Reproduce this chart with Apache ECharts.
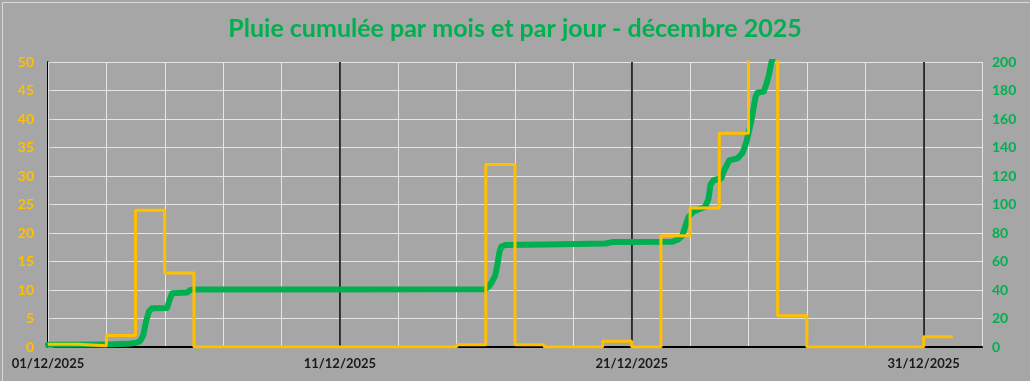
<!DOCTYPE html>
<html>
<head>
<meta charset="utf-8">
<script src="https://cdn.jsdelivr.net/npm/echarts@6/dist/echarts.min.js"></script>
<style>
html,body{margin:0;padding:0;background:#A6A6A6;}
#c{width:1030px;height:381px;}
</style>
</head>
<body>
<div id="c"></div>
<script>
// ---- Data ----
const titleText = 'Pluie cumulée par mois et par jour - décembre 2025';
// x in days since 01/12/2025 00:00
const xTickLabels = ['01/12/2025', '11/12/2025', '21/12/2025', '31/12/2025'];
// Daily rainfall (mm), 1..31 December, left axis
const dailyRain = [0.5, 0.2, 2, 24, 13, 0, 0, 0, 0, 0,
                   0, 0, 0, 0, 0.4, 32, 0.4, 0, 0, 1,
                   0, 19.5, 24.4, 37.5, 58, 5.5, 0, 0, 0, 0,
                   1.8];
// Cumulative rainfall (mm), right axis: time (days) / value
const cumDays = [0.00, 1.99, 2.71, 2.98, 3.15, 3.26, 3.36, 3.46, 3.57, 4.08,
                 4.15, 4.25, 4.77, 4.87, 5.04, 14.98, 15.08, 15.19, 15.32, 15.39,
                 15.46, 15.53, 15.67, 17.04, 19.10, 19.34, 21.39, 21.60, 21.73, 21.84,
                 21.94, 22.11, 22.35, 22.52, 22.63, 22.70, 22.80, 23.07, 23.17, 23.34,
                 23.62, 23.79, 23.90, 24.00, 24.11, 24.24, 24.31, 24.52, 24.62, 24.69,
                 24.79, 24.89, 25.50, 26.50, 31.00];
const cumRain = [1.5, 1.8, 2.2, 2.8, 4.0, 8, 18, 25, 27.2, 27.4,
                 32, 37.8, 38.2, 40.0, 40.3, 40.5, 42, 45, 50, 57,
                 66, 70.5, 71.6, 72.0, 72.6, 73.6, 73.9, 75.5, 78, 85,
                 91, 95, 97, 98.5, 104, 114, 117, 118.4, 124, 131,
                 132.4, 136, 142, 150, 160, 175.6, 178.5, 179.2, 185, 190,
                 200, 206, 213, 219, 220.8];

// ---- Build series data ----
const dailyData = dailyRain.map((v, i) => [i, v]);
dailyData.push([dailyRain.length, dailyRain[dailyRain.length - 1]]);
const cumData = cumDays.map((d, i) => [d, cumRain[i]]);

const chart = echarts.init(document.getElementById('c'), null, {renderer: 'canvas'});
const FONT = 'Lato';
chart.setOption({
  backgroundColor: '#A6A6A6',
  animation: false,
  title: {
    text: titleText,
    left: 'center',
    top: 11,
    textStyle: {color: '#00B050', fontFamily: FONT, fontWeight: 'bold', fontSize: 25}
  },
  grid: {left: 48, right: 48, top: 62, bottom: 34},
  xAxis: [
    {
      type: 'value', min: 0, max: 32, interval: 2,
      axisLine: {show: true, lineStyle: {color: '#000', width: 2}},
      axisTick: {show: false},
      axisLabel: {show: false},
      splitLine: {show: true, lineStyle: {color: '#E6E6E6', width: 1}}
    },
    {
      type: 'value', min: 0, max: 32, interval: 10, position: 'bottom',
      axisLine: {show: false},
      axisTick: {show: false},
      axisLabel: {
        show: true, margin: 10, color: '#1a1a1a', fontFamily: FONT, fontWeight: 'bold', fontSize: 13,
        formatter: v => (v % 10 === 0 && v / 10 < xTickLabels.length) ? xTickLabels[v / 10] : ''
      },
      splitLine: {show: true, showMinLine: false, showMaxLine: false, lineStyle: {color: '#000', width: 1.5}}
    }
  ],
  yAxis: [
    {
      type: 'value', min: 0, max: 50, interval: 5, position: 'left',
      axisLine: {show: true, lineStyle: {color: '#000', width: 2}},
      axisTick: {show: false},
      axisLabel: {color: '#FFC000', fontFamily: FONT, fontWeight: 'bold', fontSize: 14, margin: 14},
      splitLine: {show: true, lineStyle: {color: '#E6E6E6', width: 1}}
    },
    {
      type: 'value', min: 0, max: 200, interval: 20, position: 'right',
      axisLine: {show: true, lineStyle: {color: '#D9D9D9', width: 1}},
      axisTick: {show: true, length: 5, lineStyle: {color: '#D9D9D9'}},
      axisLabel: {color: '#00B050', fontFamily: FONT, fontWeight: 'bold', fontSize: 14, margin: 10},
      splitLine: {show: false}
    }
  ],
  graphic: [{
    type: 'rect', left: 0, top: 0, z: 100, silent: true,
    shape: {x: 0.5, y: 0.5, width: 1029, height: 380},
    style: {fill: 'none', stroke: '#D9D9D9', lineWidth: 1}
  }],
  series: [
    {
      name: 'Cumul', type: 'line', xAxisIndex: 0, yAxisIndex: 1,
      data: cumData, showSymbol: false, clip: true, z: 3,
      lineStyle: {color: '#00B050', width: 6, cap: 'round', join: 'round'}
    },
    {
      name: 'Pluie du jour', type: 'line', xAxisIndex: 0, yAxisIndex: 0,
      data: dailyData, step: 'end', showSymbol: false, clip: true, z: 4,
      lineStyle: {color: '#FFC000', width: 3}
    }
  ]
});
</script>
</body>
</html>
